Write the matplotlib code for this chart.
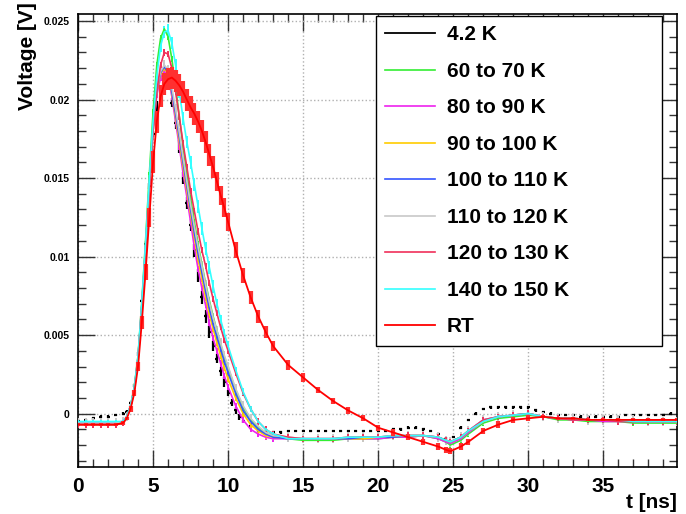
import matplotlib
matplotlib.use("Agg")
from matplotlib import pyplot as plt
from matplotlib.lines import Line2D
from matplotlib.ticker import MultipleLocator

plt.rcParams["font.family"] = ["Liberation Sans", "DejaVu Sans"]
plt.rcParams["font.weight"] = "bold"

# Shared time grid [ns]
t = [0, 0.5, 1, 1.5, 2, 2.5, 3, 3.25, 3.5, 3.75, 4, 4.25, 4.5, 4.75, 5, 5.25, 5.5, 5.75,
     6, 6.25, 6.5, 6.75, 7, 7.25, 7.5, 7.75, 8, 8.25, 8.5, 8.75, 9, 9.25, 9.5, 9.75, 10,
     10.5, 11, 11.5, 12, 12.5, 13, 14, 15, 16, 17, 18, 19, 20, 21, 22, 23, 24, 24.5, 24.8,
     25.5, 26, 27, 28, 29, 30, 31, 32, 33, 34, 35, 36, 37, 38, 39, 39.9]

v_60_70 = [-0.0006, -0.0006, -0.0007, -0.0007, -0.0007, -0.0007, -0.0006, -0.0002, 0.0005, 0.0017,
           0.0037, 0.0071, 0.0110, 0.0152, 0.0192, 0.0222, 0.0239, 0.0245, 0.0240, 0.0226,
           0.0208, 0.0189, 0.0170, 0.0153, 0.0137, 0.0122, 0.0108, 0.0095, 0.0083, 0.0072,
           0.0062, 0.0053, 0.0044, 0.0036, 0.0029, 0.0015, 0.0004, -0.0004, -0.0009, -0.0012,
           -0.0014, -0.0016, -0.0017, -0.0017, -0.0017, -0.0016, -0.0016, -0.0016, -0.0015, -0.0015,
           -0.0014, -0.0016, -0.0018, -0.0020, -0.0017, -0.0013, -0.0006, -0.0003, -0.0002, -0.0001,
           -0.0002, -0.0004, -0.0004, -0.0005, -0.0005, -0.0005, -0.0006, -0.0006, -0.0006, -0.0006]

v_80_90 = [-0.0007, -0.0007, -0.0007, -0.0007, -0.0007, -0.0007, -0.0006, -0.0002, 0.0004, 0.0015,
           0.0035, 0.0068, 0.0105, 0.0143, 0.0180, 0.0203, 0.0214, 0.0218, 0.0215, 0.0202,
           0.0186, 0.0170, 0.0153, 0.0138, 0.0122, 0.0106, 0.0092, 0.0080, 0.0069, 0.0058,
           0.0048, 0.0040, 0.0032, 0.0024, 0.0017, 0.0005, -0.0004, -0.0010, -0.0013, -0.0015,
           -0.0016, -0.0016, -0.0016, -0.0016, -0.0016, -0.0016, -0.0016, -0.0016, -0.0015, -0.0015,
           -0.0014, -0.0016, -0.0018, -0.0019, -0.0016, -0.0012, -0.0005, -0.0002, -0.0001, 0.0000,
           -0.0002, -0.0003, -0.0004, -0.0004, -0.0005, -0.0005, -0.0005, -0.0005, -0.0005, -0.0005]

v_90_100 = [-0.0007, -0.0007, -0.0007, -0.0007, -0.0007, -0.0007, -0.0006, -0.0002, 0.0004, 0.0015,
            0.0035, 0.0068, 0.0105, 0.0144, 0.0181, 0.0205, 0.0216, 0.0220, 0.0216, 0.0204,
            0.0189, 0.0173, 0.0157, 0.0142, 0.0127, 0.0112, 0.0098, 0.0086, 0.0074, 0.0063,
            0.0054, 0.0045, 0.0037, 0.0029, 0.0022, 0.0010, 0.0000, -0.0007, -0.0011, -0.0014,
            -0.0015, -0.0016, -0.0016, -0.0016, -0.0016, -0.0016, -0.0016, -0.0015, -0.0015, -0.0014,
            -0.0014, -0.0015, -0.0017, -0.0018, -0.0015, -0.0011, -0.0005, -0.0002, -0.0001, 0.0000,
            -0.0002, -0.0003, -0.0003, -0.0004, -0.0004, -0.0004, -0.0005, -0.0005, -0.0005, -0.0005]

v_100_110 = [-0.0006, -0.0006, -0.0006, -0.0006, -0.0006, -0.0006, -0.0005, -0.0002, 0.0005, 0.0016,
             0.0036, 0.0069, 0.0106, 0.0145, 0.0182, 0.0206, 0.0217, 0.0221, 0.0217, 0.0205,
             0.0191, 0.0176, 0.0160, 0.0145, 0.0130, 0.0115, 0.0102, 0.0090, 0.0078, 0.0067,
             0.0057, 0.0049, 0.0041, 0.0033, 0.0026, 0.0013, 0.0002, -0.0005, -0.0010, -0.0013,
             -0.0015, -0.0016, -0.0016, -0.0016, -0.0016, -0.0016, -0.0015, -0.0015, -0.0015, -0.0014,
             -0.0014, -0.0015, -0.0017, -0.0018, -0.0015, -0.0011, -0.0004, -0.0002, -0.0001, 0.0000,
             -0.0002, -0.0003, -0.0003, -0.0004, -0.0004, -0.0004, -0.0005, -0.0005, -0.0005, -0.0005]

v_110_120 = [-0.0006, -0.0006, -0.0006, -0.0006, -0.0006, -0.0006, -0.0005, -0.0002, 0.0005, 0.0016,
             0.0036, 0.0069, 0.0107, 0.0146, 0.0183, 0.0207, 0.0218, 0.0222, 0.0219, 0.0208,
             0.0194, 0.0179, 0.0163, 0.0148, 0.0133, 0.0119, 0.0106, 0.0094, 0.0082, 0.0071,
             0.0061, 0.0053, 0.0045, 0.0037, 0.0030, 0.0016, 0.0005, -0.0003, -0.0008, -0.0012,
             -0.0014, -0.0015, -0.0016, -0.0016, -0.0016, -0.0015, -0.0015, -0.0015, -0.0014, -0.0014,
             -0.0014, -0.0015, -0.0017, -0.0018, -0.0015, -0.0011, -0.0004, -0.0002, -0.0001, 0.0000,
             -0.0002, -0.0003, -0.0003, -0.0004, -0.0004, -0.0004, -0.0004, -0.0005, -0.0005, -0.0005]

v_120_130 = [-0.0007, -0.0007, -0.0007, -0.0007, -0.0007, -0.0007, -0.0006, -0.0002, 0.0004, 0.0015,
             0.0034, 0.0066, 0.0103, 0.0142, 0.0180, 0.0205, 0.0222, 0.0230, 0.0229, 0.0220,
             0.0205, 0.0189, 0.0172, 0.0157, 0.0142, 0.0129, 0.0116, 0.0104, 0.0094, 0.0083,
             0.0073, 0.0064, 0.0055, 0.0047, 0.0040, 0.0026, 0.0013, 0.0003, -0.0005, -0.0010,
             -0.0013, -0.0015, -0.0016, -0.0016, -0.0016, -0.0015, -0.0015, -0.0015, -0.0014, -0.0014,
             -0.0014, -0.0015, -0.0017, -0.0018, -0.0015, -0.0011, -0.0004, -0.0002, -0.0001, 0.0000,
             -0.0002, -0.0003, -0.0004, -0.0004, -0.0004, -0.0005, -0.0005, -0.0005, -0.0005, -0.0005]

v_140_150 = [-0.0005, -0.0005, -0.0005, -0.0005, -0.0005, -0.0005, -0.0005, -0.0002, 0.0005, 0.0016,
             0.0036, 0.0070, 0.0108, 0.0148, 0.0186, 0.0215, 0.0234, 0.0243, 0.0244, 0.0236,
             0.0222, 0.0205, 0.0188, 0.0173, 0.0160, 0.0146, 0.0132, 0.0118, 0.0105, 0.0093,
             0.0081, 0.0070, 0.0060, 0.0051, 0.0043, 0.0028, 0.0014, 0.0003, -0.0005, -0.0010,
             -0.0013, -0.0016, -0.0016, -0.0016, -0.0016, -0.0015, -0.0015, -0.0015, -0.0014, -0.0014,
             -0.0014, -0.0015, -0.0017, -0.0018, -0.0015, -0.0011, -0.0005, -0.0002, -0.0001, 0.0000,
             -0.0002, -0.0003, -0.0003, -0.0004, -0.0004, -0.0004, -0.0005, -0.0005, -0.0005, -0.0005]
e_140_150 = [0.0001, 0.0001, 0.0001, 0.0001, 0.0001, 0.0001, 0.0001, 0.0001, 0.0001, 0.0002,
             0.0002, 0.0003, 0.0003, 0.0004, 0.0004, 0.0004, 0.0004, 0.0004, 0.0004, 0.0004,
             0.0004, 0.0004, 0.0004, 0.0004, 0.0004, 0.0004, 0.0004, 0.0004, 0.0004, 0.0004,
             0.0004, 0.0003, 0.0003, 0.0003, 0.0003, 0.0002, 0.0002, 0.0002, 0.0001, 0.0001,
             0.0001, 0.0001, 0.0001, 0.0001, 0.0001, 0.0001, 0.0001, 0.0001, 0.0001, 0.0001,
             0.0001, 0.0001, 0.0001, 0.0001, 0.0001, 0.0001, 0.0001, 0.0001, 0.0001, 0.0001,
             0.0001, 0.0001, 0.0001, 0.0001, 0.0001, 0.0001, 0.0001, 0.0001, 0.0001, 0.0001]

v_rt = [-0.0007, -0.0007, -0.0007, -0.0007, -0.0007, -0.0007, -0.0006, -0.0003, 0.0003, 0.0013,
        0.0030, 0.0058, 0.0090, 0.0125, 0.0160, 0.0186, 0.0202, 0.0210, 0.0213, 0.0214,
        0.0212, 0.0209, 0.0205, 0.0200, 0.0195, 0.0191, 0.0186, 0.0180, 0.0173, 0.0165,
        0.0157, 0.0148, 0.0139, 0.0131, 0.0122, 0.0104, 0.0088, 0.0074, 0.0062, 0.0052,
        0.0043, 0.0031, 0.0023, 0.0015, 0.0008, 0.0002, -0.0003, -0.0009, -0.0012, -0.0015,
        -0.0018, -0.0021, -0.0023, -0.0024, -0.0021, -0.0018, -0.0011, -0.0007, -0.0004, -0.0003,
        -0.0002, -0.0003, -0.0003, -0.0004, -0.0004, -0.0004, -0.0004, -0.0004, -0.0004, -0.0004]

e_rt = [0.0001, 0.0001, 0.0001, 0.0001, 0.0001, 0.0001, 0.0001, 0.0001, 0.0002, 0.0002,
        0.0003, 0.0004, 0.0005, 0.0006, 0.0007, 0.0007, 0.0007, 0.0007, 0.0007, 0.0007,
        0.0007, 0.0007, 0.0007, 0.0007, 0.0007, 0.0007, 0.0007, 0.0007, 0.0007, 0.0007,
        0.0007, 0.0006, 0.0006, 0.0006, 0.0006, 0.0005, 0.0005, 0.0004, 0.0004, 0.0004,
        0.0003, 0.0003, 0.0003, 0.0002, 0.0002, 0.0002, 0.0002, 0.0002, 0.0002, 0.0002,
        0.0002, 0.0002, 0.0002, 0.0002, 0.0002, 0.0002, 0.0002, 0.0002, 0.0002, 0.0002,
        0.0001, 0.0001, 0.0001, 0.0001, 0.0001, 0.0001, 0.0001, 0.0001, 0.0001, 0.0001]

# 4.2 K curve has its own, coarser time sampling in the tails
t_42 = [0, 0.5, 1, 1.5, 2, 2.5, 3, 3.25, 3.5, 3.75, 4, 4.25, 4.5, 4.75, 5, 5.25, 5.5, 5.75,
        6, 6.25, 6.5, 6.75, 7, 7.25, 7.5, 7.75, 8, 8.25, 8.5, 8.75, 9, 9.25, 9.5, 9.75, 10,
        10.25, 10.5, 10.75, 11, 11.5, 12, 12.5, 13, 13.5, 14, 14.5, 15, 15.5, 16, 16.5, 17,
        17.5, 18, 18.5, 19, 19.5, 20, 20.5, 21, 21.5, 22, 22.5, 23, 23.5, 24, 24.5, 25, 25.5,
        26, 26.5, 27, 27.5, 28, 28.5, 29, 29.5, 30, 30.5, 31, 31.5, 32, 32.5, 33, 33.5, 34,
        34.5, 35, 35.5, 36, 36.5, 37, 37.5, 38, 38.5, 39, 39.5]
v_42 = [-0.0005, -0.0004, -0.0003, -0.0002, -0.0002, -0.0001, 0.0000, 0.0001, 0.0007, 0.0018,
        0.0038, 0.0072, 0.0108, 0.0145, 0.0178, 0.0196, 0.0206, 0.0212, 0.0210, 0.0198,
        0.0185, 0.0170, 0.0150, 0.0134, 0.0120, 0.0104, 0.0088, 0.0074, 0.0062, 0.0052,
        0.0043, 0.0035, 0.0027, 0.0020, 0.0013, 0.0007, 0.0002, -0.0002, -0.0005, -0.0008,
        -0.0011, -0.0012, -0.0012, -0.0012, -0.0011, -0.0011, -0.0011, -0.0011, -0.0011, -0.0011,
        -0.0011, -0.0011, -0.0011, -0.0011, -0.0011, -0.0011, -0.0011, -0.0011, -0.0010, -0.0010,
        -0.0009, -0.0009, -0.0010, -0.0011, -0.0013, -0.0016, -0.0015, -0.0009, -0.0004, 0.0000,
        0.0003, 0.0004, 0.0004, 0.0004, 0.0004, 0.0004, 0.0004, 0.0002, 0.0001, 0.0000,
        -0.0001, -0.0001, -0.0001, -0.0002, -0.0002, -0.0002, -0.0002, -0.0002, -0.0002, -0.0001,
        -0.0001, -0.0001, -0.0001, -0.0001, -0.0001, 0.0000]
e_42 = [0.00008, 0.00008, 0.00008, 0.00008, 0.00008, 0.00008, 0.00008, 0.0001, 0.0001, 0.0001,
        0.0001, 0.0001, 0.0002, 0.0002, 0.0002, 0.0003, 0.0003, 0.0003, 0.0003, 0.0003,
        0.0004, 0.0004, 0.0004, 0.0004, 0.0004, 0.0004, 0.0004, 0.0004, 0.0004, 0.0004,
        0.0003, 0.0003, 0.0003, 0.0003, 0.0002, 0.0002, 0.0002, 0.0002, 0.0001, 0.0001,
        0.00008, 0.00008, 0.00008, 0.00008, 0.00008, 0.00008, 0.00008, 0.00008, 0.00008, 0.00008,
        0.00008, 0.00008, 0.00008, 0.00008, 0.00008, 0.00008, 0.00008, 0.00008, 0.00008, 0.00008,
        0.00008, 0.00008, 0.00008, 0.00008, 0.00008, 0.00008, 0.00008, 0.00008, 0.00008, 0.00008,
        0.00008, 0.00008, 0.00008, 0.00008, 0.00008, 0.00008, 0.00008, 0.00008, 0.00008, 0.00008,
        0.00008, 0.00008, 0.00008, 0.00008, 0.00008, 0.00008, 0.00008, 0.00008, 0.00008, 0.00008,
        0.00008, 0.00008, 0.00008, 0.00008, 0.00008, 0.00008]

series = [
    ("60 to 70 K", v_60_70, 0.0002, "#33ee33"),
    ("80 to 90 K", v_80_90, 0.0002, "#ee22ee"),
    ("90 to 100 K", v_90_100, 0.0002, "#ffcc00"),
    ("100 to 110 K", v_100_110, 0.0002, "#3355ff"),
    ("110 to 120 K", v_110_120, 0.0003, "#c8c8c8"),
    ("120 to 130 K", v_120_130, 0.0002, "#f0305a"),
    ("140 to 150 K", v_140_150, e_140_150, "#33ffff"),
]

ytick_vals = [0, 0.005, 0.01, 0.015, 0.02, 0.025]
ytick_labels = ["0", "0.005", "0.01", "0.015", "0.02", "0.025"]
xtick_vals = [0, 5, 10, 15, 20, 25, 30, 35]

fig = plt.figure(figsize=(6.86, 5.14), dpi=100)
ax = fig.add_axes([78 / 686, 47 / 514, 599 / 686, 453 / 514])

# 4.2 K: points with x/y error bars
ax.errorbar(t_42, v_42, yerr=e_42, xerr=0.1, fmt="none", ecolor="black",
            elinewidth=1.6, zorder=3)
handles = [Line2D([], [], color="black", lw=1.3, label="4.2 K")]

for name, vals, err, col in series:
    ax.errorbar(t, vals, yerr=err, fmt="none", ecolor=col, elinewidth=1.4, zorder=3)
    line, = ax.plot(t, vals, color=col, lw=1.2, label=name, zorder=4)
    handles.append(line)

# room temperature
ax.errorbar(t, v_rt, yerr=e_rt, fmt="none", ecolor="#ff3030", elinewidth=3.0, zorder=5)
rt_line, = ax.plot(t, v_rt, color="#ff0000", lw=1.3, label="RT", zorder=6)
handles.append(rt_line)

ax.set_xlim(0, 39.9)
ax.set_ylim(-0.0034, 0.02545)
ax.set_xticks(xtick_vals)
ax.set_yticks(ytick_vals)
ax.set_yticklabels(ytick_labels)
ax.xaxis.set_minor_locator(MultipleLocator(1))
ax.yaxis.set_minor_locator(MultipleLocator(0.001))
ax.tick_params(which="both", direction="in", top=True, right=True, colors="#333333")
ax.tick_params(which="major", length=12, width=1)
ax.tick_params(which="minor", length=6, width=1)
ax.tick_params(axis="x", which="major", labelsize=15, pad=7, labelcolor="black")
ax.tick_params(axis="y", which="major", labelsize=7.5, pad=6, labelcolor="black")
for lab in ax.get_xticklabels() + ax.get_yticklabels():
    lab.set_fontweight("bold")
for sp in ax.spines.values():
    sp.set_linewidth(1.2)
ax.grid(True, which="major", color="#b0b0b0", linestyle=":", linewidth=1)
ax.set_axisbelow(True)

fig.text(677 / 686, 1 - 508 / 514, "t [ns]", ha="right", va="baseline",
         fontsize=15, fontweight="bold")
fig.text(28 / 686, 1 - 2 / 514, "Voltage [V]", rotation=90, ha="center", va="top",
         fontsize=15, fontweight="bold")

leg = ax.legend(handles=handles, loc="upper left",
                bbox_to_anchor=(298 / 599, 0, 286 / 599, 451 / 453), mode="expand",
                fontsize=15, frameon=True, fancybox=False, framealpha=1,
                edgecolor="black", handlelength=2.4, handletextpad=0.55,
                labelspacing=0.84, borderpad=0.45, borderaxespad=0)
leg.get_frame().set_linewidth(1.0)
for text in leg.get_texts():
    text.set_fontweight("bold")
leg.set_zorder(10)

fig.savefig("out.png", dpi=100)
